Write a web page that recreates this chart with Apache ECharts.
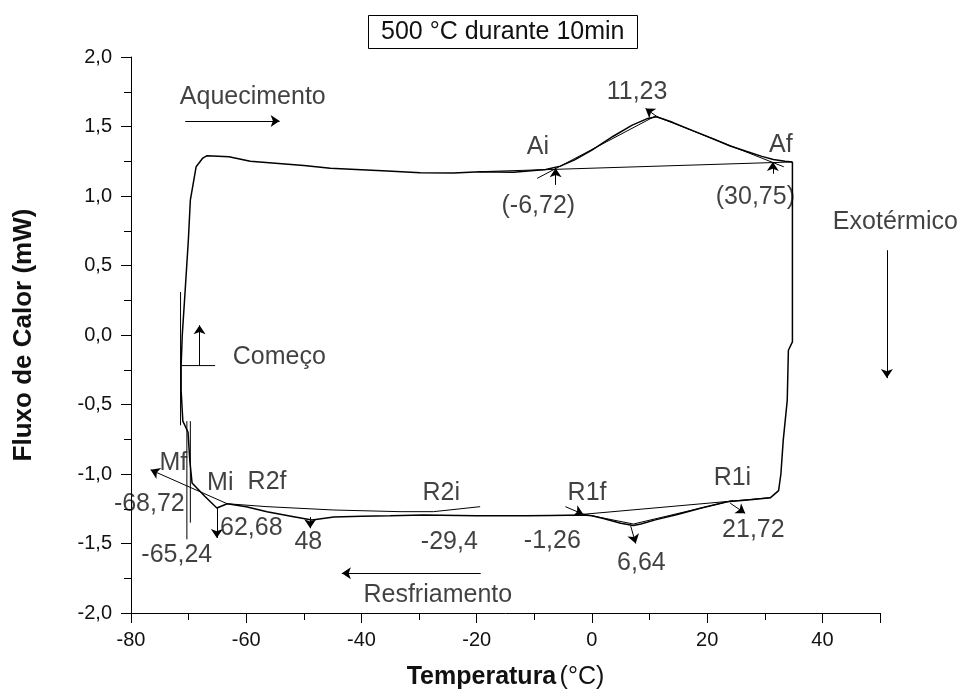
<!DOCTYPE html>
<html>
<head>
<meta charset="utf-8">
<title>500 °C durante 10min</title>
<script src="https://cdn.jsdelivr.net/npm/echarts@6/dist/echarts.min.js"></script>
<style>
  html, body { margin: 0; padding: 0; background: #fff; }
  #chart { width: 967px; height: 693px; }
</style>
</head>
<body>
<div id="chart"></div>
<script>
const fonte = '"Liberation Sans", Arial, sans-serif'

// eixos
const xMin = -80, xMax = 50, xPasso = 20
const yMin = -2, yMax = 2, yPasso = 0.5

// curva de aquecimento (Começo -> Af)
const aquecimento = [
  [-71.3, -0.22], [-71.1, 0.0], [-70.6, 0.32], [-70.05, 0.68], [-69.7, 0.97], [-68.7, 1.21],
  [-67.6, 1.27], [-66.8, 1.29], [-63, 1.283], [-59.3, 1.25], [-50, 1.22], [-45.4, 1.2],
  [-35.5, 1.18], [-29.8, 1.168], [-24, 1.165], [-19.4, 1.175], [-13.6, 1.17], [-8, 1.19],
  [-5.5, 1.215], [-3, 1.26], [0, 1.33], [3.7, 1.43], [7, 1.51], [9.5, 1.555], [11.2, 1.57],
  [14, 1.53], [17.5, 1.47], [21.1, 1.41], [24, 1.36], [26.9, 1.32], [29.5, 1.285],
  [31.5, 1.262], [33.5, 1.25], [34.8, 1.245]
]

// curva de resfriamento (Af -> R1 -> R2 -> Mi -> volta ao início)
const resfriamento = [
  [34.8, 1.245], [34.8, -0.05], [34.1, -0.11], [33.9, -0.47], [33.2, -0.76], [32.8, -1.0],
  [32.4, -1.12], [31.0, -1.17], [27.5, -1.185], [23.5, -1.2], [19, -1.245], [15, -1.29],
  [11, -1.33], [8.5, -1.36], [7.2, -1.37], [5, -1.355], [2, -1.32], [0, -1.3], [-1.5, -1.295],
  [-7.2, -1.298], [-11.3, -1.3], [-20, -1.3], [-29.2, -1.295], [-35, -1.3], [-40, -1.304],
  [-44.8, -1.31], [-48.6, -1.331], [-52, -1.305], [-56.4, -1.271], [-60, -1.235],
  [-63.3, -1.214], [-65.1, -1.245], [-67.2, -1.16], [-69.4, -1.065], [-69.8, -0.9],
  [-70.1, -0.7], [-71.0, -0.62], [-71.3, -0.4], [-71.3, -0.22]
]

// linhas de base e tangentes
const tangentes = [
  [[-19.4, 1.175], [34.8, 1.245]],
  [[-9.5, 1.127], [11.0, 1.575]],
  [[11.0, 1.575], [33.3, 1.21]],
  [[31.0, -1.17], [-1.5, -1.29]],
  [[24.5, -1.19], [7.2, -1.36], [-2.5, -1.28]],
  [[-19.4, -1.235], [-27.5, -1.271], [-33.3, -1.271], [-44.8, -1.259], [-56.4, -1.235], [-63.3, -1.214]],
  [[-71.4, 0.31], [-71.4, -0.65]],
  [[-70.3, -0.62], [-70.3, -1.47]],
  [[-69.7, -0.62], [-69.7, -1.35]],
  [[-71.3, -0.22], [-65.4, -0.22]]
]

// setas (início -> ponta)
const setas = [
  [[-70.6, 1.54], [-54.2, 1.54]],
  [[-19.3, -1.714], [-43.4, -1.714]],
  [[51.2, 0.61], [51.2, -0.31]],
  [[-68.1, -0.22], [-68.1, 0.07]],
  [[-6.3, 1.08], [-6.3, 1.2]],
  [[31.4, 1.16], [31.4, 1.245]],
  [[11.5, 1.565], [9.3, 1.63]],
  [[-63.3, -1.214], [-76.6, -0.97]],
  [[-65.1, -1.245], [-65.1, -1.46]],
  [[-48.9, -1.31], [-48.9, -1.39]],
  [[-4.6, -1.235], [-1.5, -1.29]],
  [[6.7, -1.37], [7.6, -1.5]],
  [[24.0, -1.21], [26.6, -1.283]]
]

// textos [x, y, texto]
const rotulos = [
  [-58.86, 1.712, 'Aquecimento'],
  [-54.26, -0.158, 'Começo'],
  [-9.39, 1.353, 'Ai'],
  [7.83, 1.748, '11,23'],
  [32.79, 1.367, 'Af'],
  [-9.3, 0.928, '(-6,72)'],
  [28.37, 0.993, '(30,75)'],
  [52.67, 0.813, 'Exotérmico'],
  [-72.66, -0.921, 'Mf'],
  [-64.5, -1.065, 'Mi'],
  [-56.39, -1.058, 'R2f'],
  [-76.82, -1.216, '-68,72'],
  [-59.12, -1.388, '62,68'],
  [-72.05, -1.583, '-65,24'],
  [-49.22, -1.489, '48'],
  [-26.14, -1.137, 'R2i'],
  [-24.75, -1.489, '-29,4'],
  [-26.75, -1.871, 'Resfriamento'],
  [-0.85, -1.137, 'R1f'],
  [-6.87, -1.482, '-1,26'],
  [8.58, -1.64, '6,64'],
  [24.38, -1.029, 'R1i'],
  [28.02, -1.403, '21,72']
]

const chart = echarts.init(document.getElementById('chart'))

const eixoComum = {
  axisLine: { show: true, onZero: false, lineStyle: { color: '#000', width: 1 } },
  axisTick: { show: true, inside: false, length: 10, lineStyle: { color: '#000' } },
  minorTick: { show: true, splitNumber: 2, length: 7, lineStyle: { color: '#000' } },
  splitLine: { show: false }
}

chart.setOption({
  backgroundColor: '#fff',
  animation: false,
  textStyle: { fontFamily: fonte },
  title: {
    text: '500 °C durante 10min',
    left: 368, top: 15,
    padding: [4, 13],
    borderColor: '#000', borderWidth: 1,
    textStyle: { fontSize: 25, fontWeight: 'normal', color: '#111', lineHeight: 26, fontFamily: fonte }
  },
  grid: { left: 131, right: 87, top: 57, bottom: 80, containLabel: false, outerBoundsMode: 'none' },
  xAxis: {
    type: 'value', min: xMin, max: xMax, interval: xPasso,
    ...eixoComum,
    axisLabel: { fontSize: 20, color: '#111', margin: 17, showMaxLabel: false, fontFamily: fonte },
    name: '{b|Temperatura} {n|(°C)}',
    nameLocation: 'middle', nameGap: 52,
    nameTextStyle: {
      rich: {
        b: { fontSize: 25, fontWeight: 'bold', color: '#111', fontFamily: fonte },
        n: { fontSize: 25, color: '#111', fontFamily: fonte }
      }
    }
  },
  yAxis: {
    type: 'value', min: yMin, max: yMax, interval: yPasso,
    ...eixoComum,
    axisLabel: {
      fontSize: 20, color: '#111', margin: 19, fontFamily: fonte,
      formatter: v => v.toFixed(1).replace('.', ',')
    },
    name: 'Fluxo de Calor (mW)',
    nameLocation: 'middle', nameGap: 94,
    nameTextStyle: { fontSize: 26, fontWeight: 'bold', color: '#111', fontFamily: fonte }
  },
  series: [
    {
      name: 'aquecimento', type: 'line', data: aquecimento,
      showSymbol: false, symbol: 'none', silent: true,
      lineStyle: { color: '#000', width: 1.5 }
    },
    {
      name: 'resfriamento', type: 'line', data: resfriamento,
      showSymbol: false, symbol: 'none', silent: true,
      lineStyle: { color: '#000', width: 1.5 }
    },
    {
      name: 'tangentes', type: 'lines', coordinateSystem: 'cartesian2d', polyline: true,
      silent: true, clip: false,
      data: tangentes.map(c => ({ coords: c })),
      symbol: 'none',
      lineStyle: { color: '#000', width: 1, opacity: 1 }
    },
    {
      name: 'setas', type: 'lines', coordinateSystem: 'cartesian2d',
      silent: true, clip: false,
      data: setas.map(c => ({ coords: c })),
      symbol: ['none', 'arrow'], symbolSize: [0, 9],
      lineStyle: { color: '#000', width: 1, opacity: 1 }
    },
    {
      name: 'rotulos', type: 'scatter', silent: true, clip: false,
      symbolSize: 0,
      data: rotulos.map(r => ({ value: [r[0], r[1]], name: r[2] })),
      label: {
        show: true, position: 'inside', formatter: '{b}',
        fontSize: 25, color: '#111', fontFamily: fonte
      }
    }
  ]
})
</script>
</body>
</html>
